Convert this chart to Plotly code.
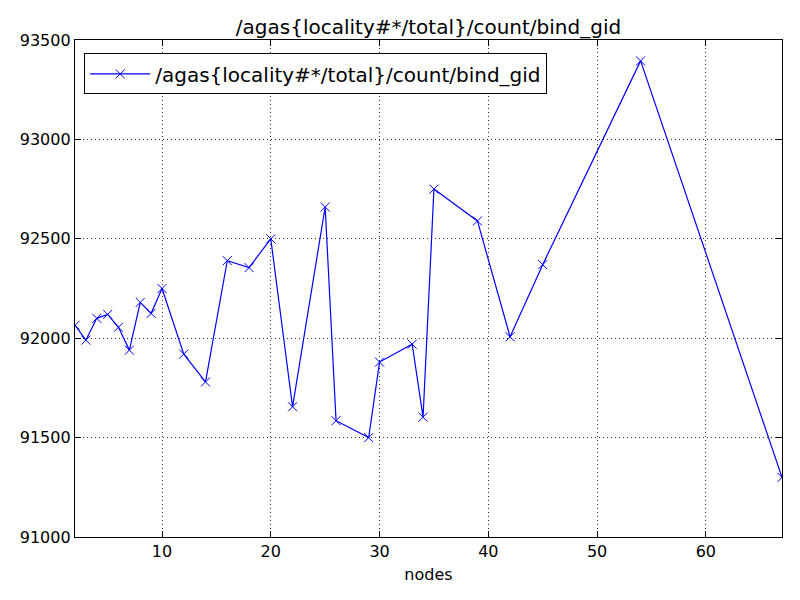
import plotly.graph_objects as go

# nodes vs. counter value
nodes = [2, 3, 4, 5, 6, 7, 8, 9, 10, 12, 14, 16, 18, 20, 22, 25, 26, 29,
         30, 33, 34, 35, 39, 42, 45, 54, 67]
bind_gid = [92065, 91990, 92100, 92120, 92055, 91940, 92180, 92125, 92250,
            91920, 91780, 92390, 92355, 92500, 91655, 92660, 91585, 91500,
            91880, 91970, 91603, 92750, 92590, 92007, 92370, 93395, 91300]

name = '/agas{locality#*/total}/count/bind_gid'

fig = go.Figure(go.Scatter(
    x=nodes, y=bind_gid, name=name, mode='lines+markers',
    line=dict(color='#0000ff', width=1.2),
    marker=dict(symbol='x-thin', size=9, line=dict(color='#0000ff', width=1)),
    showlegend=True,
))

axis_style = dict(
    showline=True, linecolor='black', linewidth=1.3, mirror='ticks',
    ticks='inside', ticklen=6, tickcolor='black',
    showgrid=True, gridcolor='#333333', gridwidth=1, griddash='1px,3px',
    zeroline=False, tickfont=dict(size=16, color='black'),
)

# the page body adds an 8px offset, so the figure is a bit smaller than the window
fig.update_layout(
    width=784, height=584,
    margin=dict(l=67, r=10, t=32, b=55),
    paper_bgcolor='white', plot_bgcolor='white',
    font=dict(family='DejaVu Sans', color='black'),
    title=dict(text=name, x=0.5, xref='paper', y=1 - 19 / 584, yref='container',
               xanchor='center', yanchor='middle', font=dict(size=20)),
    xaxis=dict(range=[2, 67], tick0=0, dtick=10,
               title=dict(text='nodes', font=dict(size=16), standoff=8), **axis_style),
    yaxis=dict(range=[91000, 93500], tick0=91000, dtick=500, tickformat='d',
               **axis_style),
    legend=dict(x=0.013, y=0.973, xanchor='left', yanchor='top',
                bordercolor='black', borderwidth=1, bgcolor='white',
                font=dict(size=20), itemwidth=60),
)

fig.write_html("out.html")
